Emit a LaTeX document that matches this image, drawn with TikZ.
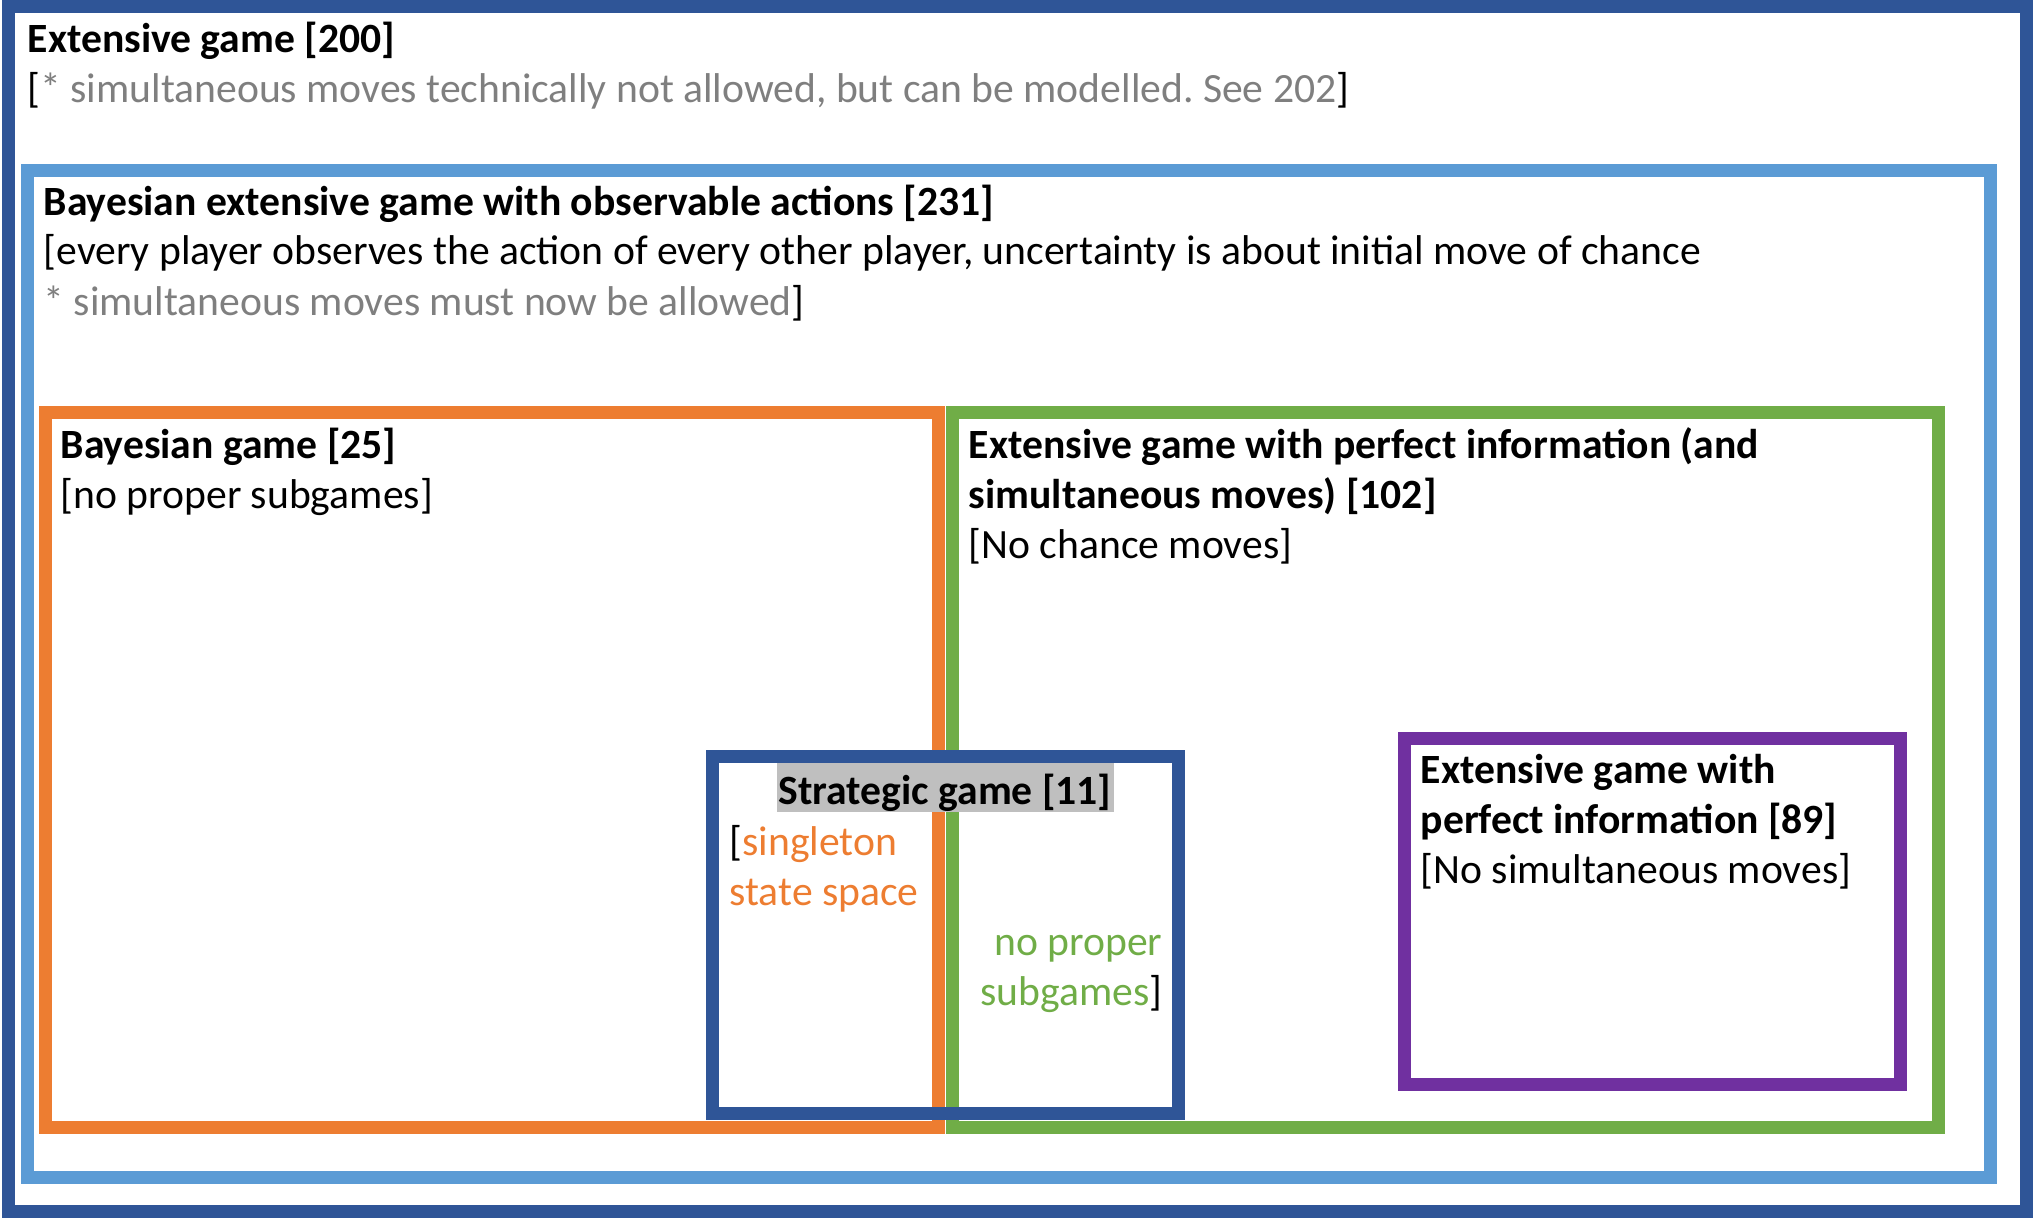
\documentclass[tikz,border=0pt]{standalone}
\usepackage{fontspec}
\setmainfont{Carlito}
\usepackage{xcolor}
\definecolor{extblue}{RGB}{47, 85, 151}
\definecolor{obsblue}{RGB}{91, 155, 213}
\definecolor{bayesorange}{RGB}{237, 125, 49}
\definecolor{perfgreen}{RGB}{112, 173, 71}
\definecolor{simpurple}{RGB}{112, 48, 160}
\definecolor{notegray}{RGB}{127, 127, 127}
\definecolor{hlgray}{RGB}{191, 191, 191}
\usetikzlibrary{positioning}
\newcommand{\gamefont}{\fontsize{11.85pt}{14.23pt}\selectfont}
\frenchspacing

\begin{document}
\begin{tikzpicture}[
    gamebox/.style={line width=1.3mm},
    lbl/.style={anchor=base west, inner sep=0pt, align=left, font=\gamefont},
    hd/.style={lbl, font=\gamefont\bfseries}
  ]
  \useasboundingbox (0,0) rectangle (20.33,-12.18);

  % nested game classes
  \draw[gamebox, extblue] (0.09,-0.063) rectangle (20.267,-12.117);
  \draw[gamebox, obsblue] (0.272,-1.704) rectangle (19.906,-11.776);
  \draw[gamebox, bayesorange] (0.45,-4.125) rectangle (9.385,-11.275);
  \draw[gamebox, perfgreen] (9.525,-4.125) rectangle (19.385,-11.275);
  \draw[gamebox, simpurple] (14.045,-7.385) rectangle (19.005,-10.845);

  % labels (multi-line nodes sit on their last baseline)
  \node[hd] (ext) at (0.27,-0.52) {Extensive game [200]};
  \node[lbl] (extnote) at (0.27,-1.02)
    {[\textcolor{notegray}{* simultaneous moves technically not allowed, but can be modelled. See 202}]};

  \node[hd] (obs) at (0.43,-2.15) {Bayesian extensive game with observable actions [231]};
  \node[lbl] (obsnote) at (0.43,-3.15)
    {[every player observes the action of every other player, uncertainty is about initial move of chance\\
     \textcolor{notegray}{* simultaneous moves must now be allowed}]};

  \node[hd] (bayes) at (0.60,-4.58) {Bayesian game [25]};
  \node[lbl] (bayesnote) at (0.60,-5.08) {[no proper subgames]};

  \node[hd] (perf) at (9.68,-5.08) {Extensive game with perfect information (and\\ simultaneous moves) [102]};
  \node[lbl] (perfnote) at (9.68,-5.58) {[No chance moves]};

  \node[hd] (nosim) at (14.20,-8.33) {Extensive game with\\ perfect information [89]};
  \node[lbl] (nosimnote) at (14.20,-8.83) {[No simultaneous moves]};

  % strategic game sits across the orange/green border
  \node[font=\gamefont\bfseries, anchor=base, fill=hlgray, inner xsep=0.02cm, inner ysep=0pt,
    text height=0.43cm, text depth=0.08cm] (strat) at (9.45,-8.04) {Strategic game [11]};
  \node[lbl] (single) at (7.29,-9.05)
    {[\textcolor{bayesorange}{singleton}\\ \textcolor{bayesorange}{state space}};
  \node[lbl, anchor=base east, align=right] (nosub) at (11.63,-10.05)
    {\textcolor{perfgreen}{no proper}\\ \textcolor{perfgreen}{subgames}]};
  \draw[gamebox, extblue] (7.125,-7.565) rectangle (11.785,-11.135);
\end{tikzpicture}
\end{document}
